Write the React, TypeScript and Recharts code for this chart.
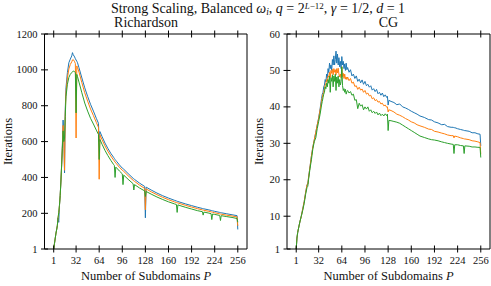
import { LineChart, Line, XAxis, YAxis } from 'recharts';

// Richardson panel (left)
const pRich = [1, 2, 4, 6, 7, 8, 9, 10, 11, 12, 13, 14, 15, 16, 17, 18, 20, 22, 24, 26, 27, 28, 30, 31, 32, 33, 34, 36, 40, 44, 48, 52, 56, 60, 63, 64, 65, 68, 72, 76, 80, 84, 85, 86, 87, 88, 92, 96, 97, 98, 104, 111, 112, 113, 120, 127, 128, 129, 136, 144, 152, 160, 168, 171, 172, 173, 176, 184, 192, 200, 207, 208, 209, 216, 219, 220, 221, 224, 231, 232, 233, 240, 248, 255, 256];
const richBlue = [1, 30, 85, 130, 175, 150, 245, 300, 380, 470, 580, 720, 640, 425, 780, 900, 985, 1040, 1060, 1078, 1096, 1085, 1072, 1062, 1055, 1048, 1040, 1012, 955, 900, 852, 808, 770, 730, 702, 600, 656, 628, 592, 562, 535, 512, 506, 500, 495, 490, 470, 452, 449, 446, 422, 395, 392, 389, 368, 350, 175, 346, 330, 313, 298, 285, 273, 269, 267, 266, 262, 252, 243, 234, 227, 226, 225, 219, 216, 215, 214, 211, 205, 204, 203, 198, 192, 187, 110];
const richOrange = [1, 30, 85, 130, 175, 200, 245, 300, 380, 470, 570, 690, 620, 440, 760, 875, 955, 1005, 1030, 1045, 1055, 1058, 1045, 1035, 620, 1022, 1012, 988, 928, 872, 826, 782, 745, 707, 680, 390, 638, 610, 576, 546, 520, 497, 492, 486, 481, 476, 457, 440, 437, 434, 410, 384, 381, 378, 357, 339, 220, 336, 320, 304, 289, 276, 264, 260, 259, 258, 254, 244, 235, 226, 219, 218, 217, 211, 208, 207, 206, 203, 197, 196, 195, 190, 185, 180, 130];
const richGreen = [1, 30, 85, 130, 175, 205, 245, 300, 380, 470, 560, 660, 600, 620, 740, 850, 920, 958, 975, 985, 990, 993, 990, 984, 760, 975, 962, 932, 872, 815, 770, 730, 698, 664, 640, 500, 612, 585, 551, 522, 496, 472, 467, 400, 458, 454, 436, 420, 360, 413, 390, 365, 330, 360, 341, 325, 294, 322, 307, 291, 277, 264, 253, 249, 205, 247, 243, 233, 224, 215, 209, 190, 207, 201, 198, 165, 196, 194, 188, 160, 187, 182, 177, 171, 150];

// CG panel (right)
const pCg = [1, 2, 3, 4, 6, 8, 10, 12, 14, 16, 17, 18, 20, 22, 24, 26, 28, 30, 32, 34,
  36, 37, 38, 39, 40, 41, 42, 43, 44, 45, 46, 47, 48, 49, 50, 51, 52, 53, 54, 55, 56, 57, 58, 59, 60, 61, 62, 63, 64, 65, 66, 67, 68, 69, 70, 71, 72,
  74, 76, 78, 80, 82, 84, 86, 88, 90, 92, 94, 96, 98, 100, 102, 104, 106, 108, 110, 112, 114, 116, 118, 120, 122, 124, 126,
  127, 128, 129,
  132, 136, 140, 144, 148, 152, 156, 160, 164, 168, 172, 178, 184, 188, 192, 197, 202, 206, 210, 215, 218, 219, 220, 224, 228, 232, 233, 234, 240, 244, 248, 252, 255, 256];
const cgBlue = [1, 4, 5.5, 6.5, 8.4, 10, 12, 14, 16.5, 18.7, 18.8, 20.5, 23.5, 26.5, 29, 31, 33, 35, 37, 39.5,
  42.3, 43.5, 44, 45.5, 46, 47.5, 46.8, 49, 48, 50.5, 49.4, 52, 50.5, 51.5, 50, 53, 51.5, 54, 51.5, 53, 55.3, 52, 54.5, 51.5, 53.5, 51, 52.5, 50.5, 53.8, 51.5, 52.5, 50.5, 51.8, 50, 52, 50.2, 50.8,
  49.5, 50.2, 48.5, 49, 47.8, 48.5, 47, 47.6, 46.6, 47.4, 46.2, 47, 45.8, 46.2, 45.4, 45.8, 44.6, 45, 44.2, 44.8, 43.6, 44, 43.2, 43.8, 42.8, 43.3, 42.6,
  42.9, 40.5, 41.8,
  41.5, 41.2, 40.6, 40.8, 40, 39.7, 39.3, 38.8, 38.4, 38, 37.5, 37.1, 36.5, 36.4, 35.9, 35.6, 35.1, 35.2, 34.6, 34.4, 34.4, 34.2, 34.3, 34, 33.8, 33.6, 33.5, 33.5, 33.3, 32.9, 32.9, 32.6, 32.5, 29.3];
const cgOrange = [1, 4, 5.5, 6.5, 8.4, 10, 12, 14, 16.5, 18.7, 18.8, 20.5, 23.5, 26.5, 29, 31, 33, 35, 36.8, 39.2,
  41.5, 42.5, 43.5, 44, 45, 46, 46.5, 47.5, 47, 48.5, 48.2, 49.5, 48, 50, 49.2, 50.3, 48.8, 50.5, 49.5, 50.2, 48.8, 50.5, 49.3, 50.6, 49, 48.2, 49, 48, 51, 48.3, 49.2, 47.8, 49, 47.6, 48.2, 47.5, 48.2,
  47.2, 47.8, 46.5, 46.8, 45.6, 45.8, 44.8, 45.4, 44.6, 44.9, 44, 44.5, 43.5, 43.8, 43, 43.2, 42.2, 42.5, 41.7, 42, 41.3, 41.5, 40.8, 41, 40.3, 40.5, 39.9,
  40, 38.6, 39.2,
  39, 38.6, 38, 37.7, 37.3, 36.8, 36.4, 35.9, 35.6, 35.1, 34.8, 34.4, 33.9, 33.8, 33.3, 33.1, 32.8, 32.6, 32.3, 32.1, 32.1, 31.5, 32, 31.8, 31.5, 31.3, 31.2, 31.2, 31, 30.7, 30.6, 30.4, 30.2, 27];
const cgGreen = [1, 4, 5.5, 6.5, 8.4, 10, 11.6, 13.5, 16, 18, 18.2, 20, 23, 25.5, 28.5, 30.5, 31.5, 34, 36, 38,
  40.5, 41.5, 42.5, 43.5, 44, 45.5, 45, 46.5, 45.5, 47.5, 46.5, 48.5, 44, 48, 47, 48.8, 45.5, 48.5, 47, 49, 44.5, 48.2, 46.5, 48.5, 45.5, 47.5, 46, 47, 51, 45.8, 44.5, 45, 44, 44.8, 43.5, 44.2, 44.5,
  43.8, 44.2, 43.2, 43.5, 41.8, 42, 39.5, 41, 40.2, 40.6, 39.2, 40, 39.4, 40, 38.8, 39.2, 38.4, 38.8, 38.2, 38.6, 37.8, 38.3, 37.6, 38, 37.5, 38.1, 37.6,
  38, 33.5, 36.3,
  36.2, 36, 35.8, 35.5, 35, 34.5, 34, 33.5, 33, 32.5, 32, 31.6, 31.2, 31, 30.9, 30.7, 30.4, 30.2, 30, 29.8, 29.7, 27.2, 29.6, 29.6, 29.4, 29.3, 27.2, 29.3, 29.2, 29, 29, 28.9, 28.9, 26.1];

const xTicks = [1, 32, 64, 96, 128, 160, 192, 224, 256];
const richTicks = [1, 200, 400, 600, 800, 1000, 1200];
const cgTicks = [1, 10, 20, 30, 40, 50, 60];

const richData = pRich.map((p, i) => ({ p, blue: richBlue[i], orange: richOrange[i], green: richGreen[i] }));
const cgData = pCg.map((p, i) => ({ p, blue: cgBlue[i], orange: cgOrange[i], green: cgGreen[i] }));

const COLORS: Record<string, string> = { blue: '#1f77b4', orange: '#ff7f0e', green: '#2ca02c' };
const FONT = '"Liberation Serif", "DejaVu Serif", serif';
const X_DOMAIN: [number, number] = [-11.75, 268.75];
const TK = 3.5;

function XTick(props: any) {
  const { x, y, payload, showText } = props;
  return (
    <g>
      <line x1={x} x2={x} y1={y - TK} y2={y + TK} stroke="#000" strokeWidth={1} />
      {showText && (
        <text x={x} y={y + 14.5} textAnchor="middle" fontSize={10.5} fontFamily={FONT} fill="#111">
          {payload.value}
        </text>
      )}
    </g>
  );
}

function YTick(props: any) {
  const { x, y, payload, showText } = props;
  return (
    <g>
      <line x1={x - TK} x2={x + TK} y1={y} y2={y} stroke="#000" strokeWidth={1} />
      {showText && (
        <text x={x - 7} y={y + 3.6} textAnchor="end" fontSize={10.5} fontFamily={FONT} fill="#111">
          {payload.value}
        </text>
      )}
    </g>
  );
}

function Panel({ data, ticks, yMax, left, width, yAxisW }: any) {
  const axisLine = { stroke: '#000', strokeWidth: 1 };
  return (
    <div style={{ position: 'absolute', left, top: 0 }}>
      <LineChart width={width} height={286} data={data} margin={{ top: 30, right: 0, bottom: 0, left: 0 }}>
        <XAxis xAxisId="b" dataKey="p" type="number" domain={X_DOMAIN} ticks={xTicks} interval={0}
          height={37} tickSize={0} tickMargin={0} axisLine={axisLine} tickLine={false} tick={<XTick showText />} />
        <XAxis xAxisId="t" orientation="top" dataKey="p" type="number" domain={X_DOMAIN} ticks={xTicks} interval={0}
          height={4} tickSize={0} tickMargin={0} axisLine={axisLine} tickLine={false} tick={<XTick />} />
        <YAxis yAxisId="l" type="number" domain={[1, yMax]} ticks={ticks} interval={0}
          width={yAxisW} tickSize={0} tickMargin={0} axisLine={axisLine} tickLine={false} tick={<YTick showText />} />
        <YAxis yAxisId="r" orientation="right" type="number" domain={[1, yMax]} ticks={ticks} interval={0}
          width={4} tickSize={0} tickMargin={0} axisLine={axisLine} tickLine={false} tick={<YTick />} />
        {['blue', 'orange', 'green'].map((k) => (
          <Line key={k} xAxisId="b" yAxisId="l" type="linear" dataKey={k} stroke={COLORS[k]}
            strokeWidth={1} dot={false} isAnimationActive={false} />
        ))}
      </LineChart>
    </div>
  );
}

export default function App() {
  return (
    <div style={{ position: 'absolute', left: 0, top: 0, width: 491, height: 286, overflow: 'hidden', background: '#fff' }}>
      <Panel data={richData} ticks={richTicks} yMax={1200} left={0} width={251} yAxisW={44.5} />
      <Panel data={cgData} ticks={cgTicks} yMax={60} left={250} width={244} yAxisW={37} />
      <svg width={491} height={286} style={{ position: 'absolute', left: 0, top: 0, pointerEvents: 'none' }}
        fontFamily={FONT} fill="#111">
        <text x={258} y={12.5} textAnchor="middle" fontSize={14}>
          Strong Scaling, Balanced <tspan fontStyle="italic">ω</tspan>
          <tspan fontStyle="italic" fontSize={9.5} dy={2.5}>i</tspan>
          <tspan dy={-2.5}>, </tspan>
          <tspan fontStyle="italic">q</tspan> = 2
          <tspan fontSize={9} dy={-4}><tspan fontStyle="italic">L</tspan>−12</tspan>
          <tspan dy={4}>, </tspan>
          <tspan fontStyle="italic">γ</tspan> = 1/2, <tspan fontStyle="italic">d</tspan> = 1
        </text>
        <text x={146} y={26.5} textAnchor="middle" fontSize={14}>Richardson</text>
        <text x={388.5} y={26.5} textAnchor="middle" fontSize={14}>CG</text>
        <text x={146} y={279.5} textAnchor="middle" fontSize={12.5}>
          Number of Subdomains <tspan fontStyle="italic">P</tspan>
        </text>
        <text x={388.5} y={280} textAnchor="middle" fontSize={12.5}>
          Number of Subdomains <tspan fontStyle="italic">P</tspan>
        </text>
        <text transform="translate(11.7,141.5) rotate(-90)" textAnchor="middle" fontSize={12.5}>Iterations</text>
        <text transform="translate(263,141.5) rotate(-90)" textAnchor="middle" fontSize={12.5}>Iterations</text>
      </svg>
    </div>
  );
}
